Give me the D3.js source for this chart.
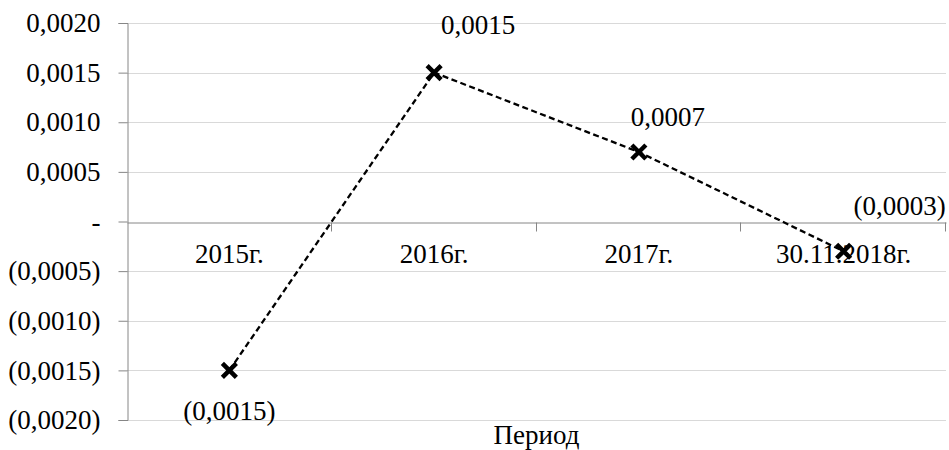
<!DOCTYPE html>
<html><head><meta charset="utf-8">
<script src="https://cdn.jsdelivr.net/npm/d3@7"></script>
<style>body{margin:0;background:#fff}svg{display:block}</style>
</head><body>
<script>
const categories = ["2015г.", "2016г.", "2017г.", "30.11.2018г."];
const values = [-0.0015, 0.0015, 0.0007, -0.0003];
const valueLabels = ["(0,0015)", "0,0015", "0,0007", "(0,0003)"];
const yTicks = [0.0020, 0.0015, 0.0010, 0.0005, 0, -0.0005, -0.0010, -0.0015, -0.0020];
const yTickLabels = ["0,0020", "0,0015", "0,0010", "0,0005", "-", "(0,0005)", "(0,0010)", "(0,0015)", "(0,0020)"];
const axisTitle = "Период";

(function () {
const W = 949, H = 450;
const mLeft = 127, mRight = 946, mTop = 23, mBottom = 420;
const fs = 27;
const FONT = "'Liberation Serif', 'Times New Roman', serif";

const svg = d3.select("body").append("svg").attr("width", W).attr("height", H);
const x = d3.scaleBand().domain(categories).range([mLeft, mRight]).padding(0);
const y = d3.scaleLinear().domain([-0.0020, 0.0020]).range([mBottom, mTop]);

// gridlines
svg.append("g").selectAll("line").data(yTicks.filter(d => d !== 0)).join("line")
  .attr("x1", mLeft).attr("x2", mRight)
  .attr("y1", d => Math.round(y(d)) + 0.5).attr("y2", d => Math.round(y(d)) + 0.5)
  .attr("stroke", "#d9d9d9").attr("stroke-width", 1);

// y axis
const yAxis = d3.axisLeft(y).tickValues(yTicks).tickSize(9).tickPadding(18)
  .tickFormat((d, i) => yTickLabels[i]);
const gy = svg.append("g").attr("transform", `translate(${mLeft + 0.5},0)`).call(yAxis);
gy.attr("font-family", FONT).attr("font-size", fs);
gy.select(".domain").attr("stroke", "#868686");
gy.selectAll(".tick line").attr("stroke", "#868686");
gy.selectAll(".tick text").attr("fill", "#000");

// x axis at zero
const xAxis = d3.axisBottom(x).tickSize(0).tickPadding(21);
const gx = svg.append("g").attr("transform", `translate(0,${Math.round(y(0)) + 0.5})`).call(xAxis);
gx.attr("font-family", FONT).attr("font-size", fs);
gx.select(".domain").attr("stroke", "#868686");
gx.selectAll(".tick text").attr("fill", "#000");
// category boundary ticks
const bounds = categories.map(c => x(c)).concat([x(categories[categories.length - 1]) + x.bandwidth()]);
gx.append("g").selectAll("line").data(bounds.slice(1)).join("line")
  .attr("x1", d => Math.round(d) - 0.5).attr("x2", d => Math.round(d) - 0.5)
  .attr("y1", 0).attr("y2", 9).attr("stroke", "#868686");

// line
const cx = d => x(d.c) + x.bandwidth() / 2;
const pts = categories.map((c, i) => ({c, v: values[i], l: valueLabels[i]}));
svg.append("path").datum(pts)
  .attr("d", d3.line().x(cx).y(d => y(d.v)))
  .attr("fill", "none").attr("stroke", "#000").attr("stroke-width", 2.3)
  .attr("stroke-dasharray", "6,3.5");

// markers
const s = 7;
svg.append("g").selectAll("path").data(pts).join("path")
  .attr("d", d => { const px = cx(d), py = y(d.v);
    return `M${px - s},${py - s}L${px + s},${py + s}M${px - s},${py + s}L${px + s},${py - s}`; })
  .attr("stroke", "#000").attr("stroke-width", 4.5).attr("fill", "none");

// data labels (offsets relative to points)
const offs = [[0, 50], [44, -39], [29, -26], [56, -36]];
svg.append("g").selectAll("text").data(pts).join("text")
  .attr("x", (d, i) => cx(d) + offs[i][0])
  .attr("y", (d, i) => y(d.v) + offs[i][1])
  .attr("text-anchor", "middle").attr("font-family", FONT).attr("font-size", fs)
  .text(d => d.l);

// axis title
svg.append("text").attr("x", (mLeft + mRight) / 2).attr("y", 444)
  .attr("text-anchor", "middle").attr("font-family", FONT).attr("font-size", fs).text(axisTitle);
})();
</script>
</body></html>
